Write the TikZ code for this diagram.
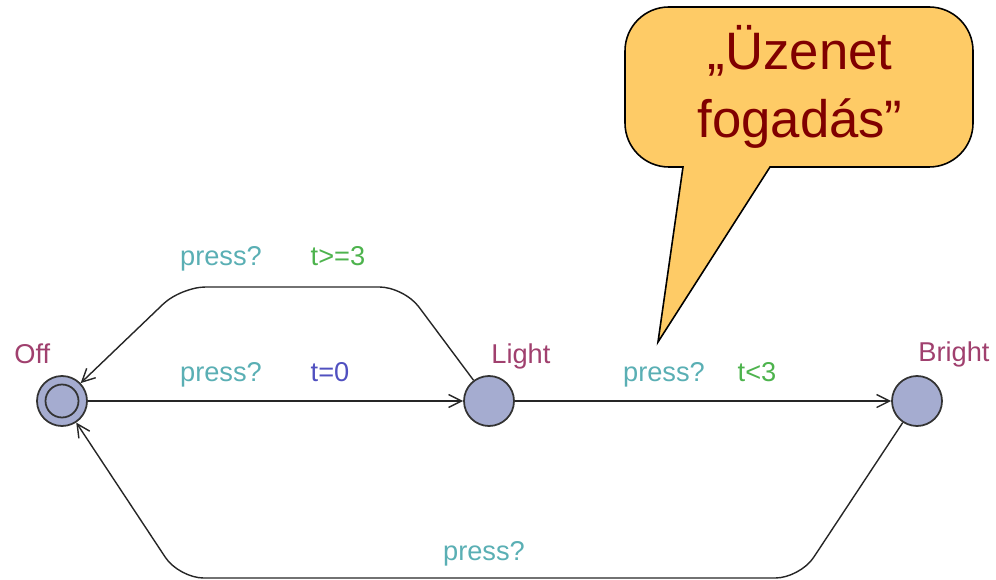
\documentclass[tikz,border=0pt]{standalone}
\usepackage{fontspec}
\setmainfont{Liberation Sans}
\usetikzlibrary{arrows.meta}

\definecolor{locfill}{HTML}{A5ACD0}
\definecolor{locname}{HTML}{A0406E}
\definecolor{synccol}{HTML}{5AAFB4}
\definecolor{guardcol}{HTML}{4DB34D}
\definecolor{updcol}{HTML}{5050C0}
\definecolor{notefill}{HTML}{FECB66}
\definecolor{notetext}{HTML}{800000}

\begin{document}
\begin{tikzpicture}[x=0.02cm,y=-0.02cm,
    loc/.style={circle,draw=black!80,fill=locfill,line width=1pt,minimum size=1cm,inner sep=0pt},
    trans/.style={draw=black!85,line width=0.8pt,-{Straight Barb[length=2.6mm,width=2.6mm]}},
    lbl/.style={font=\fontsize{15.5}{18}\selectfont,anchor=base,inner sep=0pt}]

  \useasboundingbox (0,0) rectangle (996,580);

  % locations
  \begin{scope}[every node/.style={loc}]
    \node (off)    at (62,401)  {};
    \node (light)  at (489,401) {};
    \node (bright) at (917,401) {};
  \end{scope}
  \node[loc,minimum size=0.66cm] (offin) at (off) {};

  % location names
  \begin{scope}[every node/.style={lbl,anchor=base west,text=locname}]
    \node (offname)    at (14,363)  {Off};
    \node (lightname)  at (491,363) {Light};
    \node (brightname) at (918,361) {Bright};
  \end{scope}

  % transitions
  \begin{scope}[every edge/.style={trans}]
    \path (off)   edge (light);
    \path (light) edge (bright);
  \end{scope}
  \draw[trans,rounded corners=14] (light) -- (404,287) -- (181,287) -- (off);
  \draw[trans,rounded corners=14] (bright) -- (800,578) -- (179,578) -- (off);

  % labels
  \begin{scope}[every node/.style={lbl}]
    \node[text=synccol]  (sync1)  at (221,266) {press?};
    \node[text=guardcol] (guard1) at (338,266) {t>=3};
    \node[text=synccol]  (sync2)  at (221,381) {press?};
    \node[text=updcol]   (upd2)   at (330,381) {t=0};
    \node[text=synccol]  (sync3)  at (664,381) {press?};
    \node[text=guardcol] (guard3) at (757,381) {t<3};
    \node[text=synccol]  (sync4)  at (484,560) {press?};
  \end{scope}

  % note
  \draw[fill=notefill,line width=0.9pt,rounded corners=25]
    (799,7) -- (625,7) -- (625,167)
    [sharp corners] -- (683,167) -- (658,342) -- (770,167)
    [rounded corners=25] -- (973,167) -- (973,7) -- cycle;
  \begin{scope}[every node/.style={font=\fontsize{30}{36}\selectfont,text=notetext,anchor=base,inner sep=0pt}]
    \node (note1) at (800,70)  {„Üzenet};
    \node (note2) at (800,138) {fogadás”};
  \end{scope}

\end{tikzpicture}
\end{document}
